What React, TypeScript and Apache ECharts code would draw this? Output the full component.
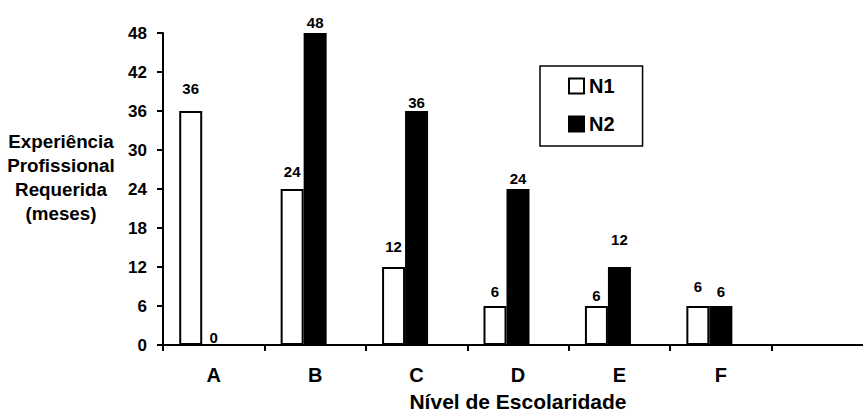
import React, { useEffect, useRef } from "react";
import * as echarts from "echarts";

const categories = ["A", "B", "C", "D", "E", "F", ""];
const seriesN1 = [36, 24, 12, 6, 6, 6];
const seriesN2 = [0, 48, 36, 24, 12, 6];
const yMin = 0;
const yMax = 48;
const yInterval = 6;
const n1LabelDistance = [15, 10, 13, 7, 3, 12];
const n2LabelDistance = [-1, 3, 1, 3, 20, 7];

const FONT = "'Liberation Sans', Arial, Helvetica, sans-serif";

export default function App() {
  const ref = useRef<HTMLDivElement>(null);
  useEffect(() => {
    if (!ref.current) return;
    const chart = echarts.init(ref.current, undefined, { renderer: "svg" });
    const labelBase = {
      show: true,
      position: "top",
      color: "#000",
      fontFamily: FONT,
      fontWeight: "bold",
      fontSize: 15,
    };
    chart.setOption({
      animation: false,
      backgroundColor: "#fff",
      grid: { left: 163, width: 710, top: 33, bottom: 67, containLabel: false },
      legend: {
        data: ["N1", "N2"],
        orient: "vertical",
        left: 540,
        top: 66,
        itemWidth: 15,
        itemHeight: 15,
        itemGap: 18,
        padding: [10, 28, 12, 28],
        borderColor: "#000",
        borderWidth: 1.5,
        icon: "rect",
        textStyle: { color: "#000", fontFamily: FONT, fontWeight: "bold", fontSize: 20, lineHeight: 18 },
      },
      xAxis: {
        type: "category",
        data: categories,
        name: "Nível de Escolaridade",
        nameLocation: "middle",
        nameGap: 46,
        nameTextStyle: { color: "#000", fontFamily: FONT, fontWeight: "bold", fontSize: 21 },
        axisLine: { lineStyle: { color: "#000", width: 2 } },
        axisTick: { show: true, length: 6, lineStyle: { color: "#000", width: 2 } },
        axisLabel: { color: "#000", fontFamily: FONT, fontWeight: "bold", fontSize: 20, margin: 20 },
        splitLine: { show: false },
      },
      yAxis: {
        type: "value",
        min: yMin,
        max: yMax,
        interval: yInterval,
        axisLine: { show: true, lineStyle: { color: "#000", width: 2 } },
        axisTick: { show: true, length: 6, lineStyle: { color: "#000", width: 2 } },
        axisLabel: { color: "#000", fontFamily: FONT, fontWeight: "bold", fontSize: 17, margin: 16 },
        splitLine: { show: false },
      },
      graphic: [
        {
          type: "text",
          style: {
            text: "Experiência\nProfissional\nRequerida\n(meses)",
            x: 61,
            y: 177,
            textAlign: "center",
            textVerticalAlign: "middle",
            fill: "#000",
            font: `bold 18.8px ${FONT}`,
            lineHeight: 24,
          },
        },
      ],
      series: [
        {
          name: "N1",
          type: "bar",
          barWidth: 23,
          barGap: "0%",
          itemStyle: { color: "#fff", borderColor: "#000", borderWidth: 2 },
          label: labelBase,
          data: seriesN1.map((v, i) => ({ value: v, label: { distance: n1LabelDistance[i] } })),
        },
        {
          name: "N2",
          type: "bar",
          barWidth: 23,
          barGap: "0%",
          itemStyle: { color: "#000", borderColor: "#000", borderWidth: 1.5 },
          label: labelBase,
          data: seriesN2.map((v, i) => ({ value: v, label: { distance: n2LabelDistance[i] } })),
        },
        {
          name: "spacer",
          type: "bar",
          barWidth: 23,
          barGap: "0%",
          silent: true,
          itemStyle: { color: "transparent" },
          data: [],
        },
      ],
    });
    return () => chart.dispose();
  }, []);
  return (
    <div
      ref={ref}
      style={{ position: "fixed", left: 0, top: 0, width: 873, height: 417, background: "#fff" }}
    />
  );
}
